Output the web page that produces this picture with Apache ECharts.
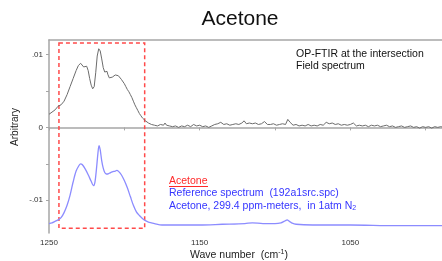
<!DOCTYPE html>
<html>
<head>
<meta charset="utf-8">
<script src="https://cdn.jsdelivr.net/npm/echarts@6/dist/echarts.min.js"></script>
<style>
  html, body { margin: 0; padding: 0; background: #fff; }
  #chart-container { width: 442px; height: 261px; }
</style>
</head>
<body>
<div id="chart-container"></div>
<script>
// field spectrum (gray), wave number vs absorbance
var fieldWn = [1250, 1248, 1246, 1244, 1242, 1240, 1238, 1236, 1234, 1232, 1230.5, 1229, 1228, 1227, 1226, 1225, 1224, 1223, 1222, 1221,
  1220, 1219, 1218, 1217, 1216, 1215, 1214, 1213, 1212, 1211.5, 1211, 1210, 1209, 1208, 1207, 1206, 1205, 1204, 1203, 1202,
  1201, 1200, 1199, 1198, 1197, 1196, 1195, 1194, 1193, 1192, 1191, 1190, 1189, 1188, 1186, 1184, 1182, 1180,
  1178, 1176, 1174, 1173, 1172, 1170, 1168, 1166, 1164, 1162, 1160, 1158, 1156, 1154, 1152, 1150, 1148, 1146, 1144, 1142,
  1140, 1138, 1136, 1134, 1132, 1130, 1128, 1126, 1124, 1122, 1120.5, 1119, 1117, 1115, 1113, 1111, 1109, 1107, 1105, 1103,
  1101, 1099, 1097, 1095, 1093, 1091.5, 1090, 1088, 1086, 1084, 1082, 1080, 1078, 1076, 1074, 1072, 1070, 1068, 1066, 1064,
  1062, 1060, 1058, 1056, 1054, 1052, 1050, 1048, 1046, 1044, 1042, 1040, 1038, 1036, 1034, 1032, 1030, 1028, 1026, 1024,
  1022, 1020, 1018, 1016, 1014, 1012, 1010, 1008, 1006, 1004, 1002, 1000, 998, 996, 994, 992, 990, 988];
var fieldVal = [0.0018, 0.0021, 0.0024, 0.0029, 0.0031, 0.0036, 0.0045, 0.0056, 0.0067, 0.0078, 0.0085, 0.0088, 0.0087, 0.0083, 0.0082, 0.0084, 0.0078, 0.0067, 0.0058, 0.0053,
  0.0056, 0.0075, 0.0098, 0.0108, 0.0105, 0.0094, 0.0082, 0.0076, 0.0074, 0.0077, 0.0073, 0.0068, 0.0066, 0.0069, 0.0071, 0.0072, 0.0073, 0.0071, 0.0069, 0.0066,
  0.0064, 0.0060, 0.0056, 0.0052, 0.0049, 0.0045, 0.0041, 0.0036, 0.0031, 0.0027, 0.0023, 0.0019, 0.0016, 0.0013, 0.0009, 0.0006, 0.0004, 0.0003,
  0.0002, 0.0004, 0.0003, 0.0006, 0.0003, 0.0002, 0.0001, 0.0002, 0.0000, 0.0002, 0.0001, 0.0003, 0.0001, 0.0004, 0.0002, 0.0003, 0.0001, 0.0002, 0.0000, 0.0002,
  0.0004, 0.0005, 0.0007, 0.0004, 0.0005, 0.0003, 0.0004, 0.0005, 0.0004, 0.0006, 0.0009, 0.0005, 0.0006, 0.0005, 0.0006, 0.0004, 0.0005, 0.0008, 0.0004, 0.0004,
  0.0005, 0.0003, 0.0004, 0.0005, 0.0004, 0.0011, 0.0007, 0.0003, 0.0004, 0.0002, 0.0003, 0.0002, 0.0004, 0.0002, 0.0003, 0.0002, 0.0004, 0.0003, 0.0007, 0.0005,
  0.0006, 0.0004, 0.0005, 0.0003, 0.0004, 0.0003, 0.0004, 0.0006, 0.0002, 0.0003, 0.0002, 0.0003, 0.0001, 0.0003, 0.0002, 0.0003, 0.0001, 0.0002, 0.0003, 0.0001,
  0.0002, 0.0000, 0.0001, 0.0002, 0.0000, 0.0001, 0.0002, 0.0000, 0.0001, -0.0001, 0.0001, 0.0000, 0.0001, -0.0001, 0.0001, 0.0000, 0.0001, 0.0000];

// reference spectrum (blue)
var refWn = [1250, 1248, 1246, 1244, 1242, 1240, 1238, 1236, 1234, 1232, 1230, 1229, 1228, 1226, 1224, 1222, 1220.5, 1219.5, 1218.5, 1217.5,
  1216.8, 1216, 1215, 1214, 1213, 1212, 1211, 1210, 1208, 1206, 1205, 1204, 1202, 1200, 1198, 1196, 1194, 1192, 1190, 1188,
  1186, 1184, 1182, 1180, 1175, 1165, 1150, 1135, 1120, 1115, 1108, 1100, 1096, 1094, 1093, 1092, 1090.5, 1089, 1086, 1075,
  1050, 1020, 990, 988];
var refVal = [-0.0132, -0.0131, -0.0129, -0.0127, -0.0124, -0.0117, -0.0107, -0.0093, -0.0075, -0.0060, -0.0052, -0.0050, -0.0051, -0.0057, -0.0065, -0.0074, -0.0080, -0.0075, -0.0057, -0.0035,
  -0.0025, -0.0031, -0.0046, -0.0056, -0.0062, -0.0064, -0.0064, -0.0063, -0.0061, -0.0060, -0.0059, -0.0060, -0.0065, -0.0073, -0.0083, -0.0095, -0.0107, -0.0116, -0.0121, -0.0125,
  -0.0128, -0.0130, -0.0131, -0.0132, -0.0134, -0.0134, -0.0134, -0.0133, -0.0132, -0.0131, -0.0132, -0.0132, -0.0131, -0.0129, -0.0128, -0.0127, -0.0129, -0.0131, -0.0133, -0.0134,
  -0.0134, -0.0135, -0.0135, -0.0135];

// highlighted band (dashed box)
var boxWn = [1243.4, 1186.5];
var boxVal = [0.0116, -0.01385];

var xTickLabels = [1250, 1150, 1050];
var yTickLabels = { '0.01': '.01', '0': '0', '-0.01': '-.01' };

var font = "'Liberation Sans', Arial, sans-serif";
var axisGray = '#a6a6a6';

function pairs(xs, ys) {
  return xs.map(function (x, i) { return [x, ys[i]]; });
}

var dom = document.getElementById('chart-container');
var myChart = echarts.init(dom, null, { renderer: 'canvas' });

var option = {
  animation: false,
  grid: { left: 49, width: 452, top: 40, height: 193, containLabel: false, outerBoundsMode: 'none' },
  xAxis: [
    {
      type: 'value',
      inverse: true,
      min: 950,
      max: 1250,
      interval: 50,
      axisLine: { lineStyle: { color: axisGray, width: 1.5 } },
      axisTick: { length: 3, lineStyle: { color: axisGray } },
      splitLine: { show: false },
      axisLabel: {
        color: '#333', fontSize: 8, fontFamily: font, margin: 6,
        formatter: function (v) { return xTickLabels.indexOf(v) >= 0 ? String(v) : ''; }
      }
    },
    {
      type: 'value', position: 'top', inverse: true, min: 950, max: 1250,
      axisLine: { show: true, lineStyle: { color: axisGray, width: 1.5 } },
      axisTick: { show: false }, axisLabel: { show: false }, splitLine: { show: false }
    }
  ],
  yAxis: {
    type: 'value',
    min: -0.0145,
    max: 0.012,
    splitNumber: 5,
    axisLine: { show: true, lineStyle: { color: axisGray, width: 1.5 } },
    axisTick: { show: true, length: 3, lineStyle: { color: axisGray } },
    splitLine: { show: false },
    axisLabel: {
      color: '#333', fontSize: 8, fontFamily: font, margin: 6,
      showMinLabel: false, showMaxLabel: false,
      formatter: function (v) {
        var k = String(Math.round(v * 1000) / 1000);
        return yTickLabels[k] !== undefined ? yTickLabels[k] : '';
      }
    }
  },
  series: [
    {
      name: 'Field spectrum',
      type: 'line',
      data: pairs(fieldWn, fieldVal),
      showSymbol: false,
      lineStyle: { color: '#6c6c6c', width: 1 },
      markArea: {
        silent: true,
        itemStyle: { color: 'rgba(0,0,0,0)', borderColor: '#ff4a4a', borderWidth: 1.5, borderType: [4, 3] },
        data: [[{ coord: [boxWn[0], boxVal[0]] }, { coord: [boxWn[1], boxVal[1]] }]]
      }
    },
    {
      name: 'Reference spectrum',
      type: 'line',
      data: pairs(refWn, refVal),
      showSymbol: false,
      smooth: 0.3,
      lineStyle: { color: '#8c8cff', width: 1.3 }
    }
  ],
  graphic: [
    { type: 'text', x: 240, y: 19, style: { text: 'Acetone', fontSize: 21, fontFamily: font, fill: '#111', align: 'center', verticalAlign: 'middle' } },
    { type: 'text', x: 15, y: 127, rotation: Math.PI / 2, style: { text: 'Arbitrary', fontSize: 10, fontFamily: font, fill: '#222', align: 'center', verticalAlign: 'middle' } },
    { type: 'text', x: 239, y: 255, style: {
        text: '{a|Wave number  (cm}{s|-1}{a|)}', align: 'center', verticalAlign: 'middle',
        rich: { a: { fontSize: 10.5, fontFamily: font, fill: '#222' }, s: { fontSize: 7, fontFamily: font, fill: '#222', verticalAlign: 'top', padding: [0, 0, 5, 0] } }
      } },
    { type: 'text', x: 296, y: 54, style: { text: 'OP-FTIR at the intersection', fontSize: 10.5, fontFamily: font, fill: '#111', verticalAlign: 'middle' } },
    { type: 'text', x: 296, y: 66, style: { text: 'Field spectrum', fontSize: 10.5, fontFamily: font, fill: '#111', verticalAlign: 'middle' } },
    { type: 'text', x: 169, y: 181, style: { text: 'Acetone', fontSize: 10.5, fontFamily: font, fill: '#ff2a2a', verticalAlign: 'middle' } },
    { type: 'line', shape: { x1: 169, y1: 186.5, x2: 208, y2: 186.5 }, style: { stroke: '#ff2a2a', lineWidth: 1 } },
    { type: 'text', x: 169, y: 193, style: { text: 'Reference spectrum  (192a1src.spc)', fontSize: 10.5, fontFamily: font, fill: '#3535ff', verticalAlign: 'middle' } },
    { type: 'text', x: 169, y: 206, style: {
        text: '{a|Acetone, 299.4 ppm-meters,  in 1atm N}{s|2}', verticalAlign: 'middle',
        rich: { a: { fontSize: 10.5, fontFamily: font, fill: '#3535ff' }, s: { fontSize: 7, fontFamily: font, fill: '#3535ff', padding: [5, 0, 0, 0] } }
      } }
  ]
};

myChart.setOption(option);
window.addEventListener('resize', myChart.resize);
</script>
</body>
</html>
